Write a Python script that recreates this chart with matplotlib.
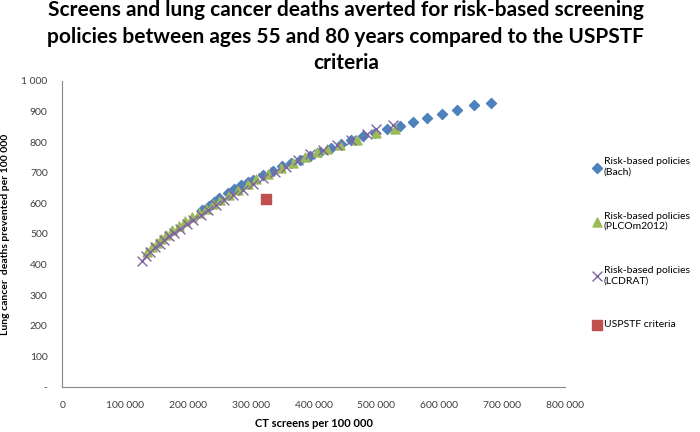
import matplotlib
matplotlib.use("Agg")
import matplotlib.pyplot as plt
from matplotlib.ticker import FuncFormatter

# Risk-based policies (Bach)
bach_x = [222000, 233000, 242000, 250000, 263000, 274000, 284000, 295000, 304000, 320000,
          336000, 350000, 364000, 379000, 394000, 410000, 427000, 443000, 459000, 478000,
          497000, 517000, 537000, 558000, 580000, 604000, 628000, 656000, 683000]
bach_y = [578, 591, 605, 618, 634, 648, 659, 668, 675, 692,
          706, 721, 732, 743, 755, 767, 780, 793, 808, 819,
          831, 843, 854, 866, 879, 893, 906, 921, 927]

# Risk-based policies (PLCOm2012)
plco_x = [135000, 142000, 150000, 157000, 165000, 175000, 185000, 195000, 206000, 217000,
          229000, 240000, 251000, 265000, 280000, 295000, 309000, 328000, 348000, 367000,
          386000, 405000, 422000, 442000, 469000, 499000, 529000]
plco_y = [440, 457, 470, 484, 497, 512, 527, 541, 555, 569,
          583, 597, 612, 628, 645, 663, 680, 697, 714, 732,
          750, 767, 778, 791, 808, 828, 843]

# Risk-based policies (LCDRAT)
lcdrat_x = [127000, 133000, 140000, 147000, 155000, 162000, 170000, 178000, 188000, 198000,
            208000, 220000, 232000, 245000, 258000, 272000, 287000, 303000, 320000, 338000,
            356000, 375000, 395000, 415000, 437000, 460000, 485000, 500000, 527000]
lcdrat_y = [413, 428, 442, 456, 468, 480, 492, 503, 517, 532,
            546, 562, 578, 595, 610, 627, 645, 664, 684, 703,
            720, 740, 760, 773, 790, 807, 825, 842, 857]

# USPSTF criteria
uspstf_x = [325000]
uspstf_y = [615]

labels = ["Risk-based policies\n(Bach)", "Risk-based policies\n(PLCOm2012)",
          "Risk-based policies\n(LCDRAT)", "USPSTF criteria"]

plt.rcParams['font.family'] = ['Lato', 'DejaVu Sans']

fig = plt.figure(figsize=(7, 4.32), dpi=100)
ax = fig.add_axes([0.089, 0.104, 0.718, 0.709])

ax.scatter(bach_x, bach_y, marker='D', s=26, color='#4F81BD', label=labels[0], zorder=3)
ax.scatter(plco_x, plco_y, marker='^', s=42, color='#9BBB59', label=labels[1], zorder=3)
ax.scatter(lcdrat_x, lcdrat_y, marker='x', s=50, color='#8064A2', linewidths=1.0,
           label=labels[2], zorder=4)
ax.scatter(uspstf_x, uspstf_y, marker='s', s=42, color='#C0504D', label=labels[3], zorder=4)

ax.set_xlim(0, 800000)
ax.set_ylim(0, 1000)
ax.set_xticks(range(0, 800001, 100000))
ax.set_yticks(range(0, 1001, 100))


def fmt_space(v):
    return f"{int(v):,}".replace(",", " ")


ax.xaxis.set_major_formatter(FuncFormatter(lambda v, p: "0" if v == 0 else fmt_space(v)))
ax.yaxis.set_major_formatter(FuncFormatter(lambda v, p: "-" if v == 0 else fmt_space(v)))
ax.tick_params(length=0, labelsize=7.5, colors='#404040')
ax.tick_params(axis='x', pad=10)
ax.tick_params(axis='y', pad=10.5)

for side in ['top', 'right']:
    ax.spines[side].set_visible(False)
for side in ['left', 'bottom']:
    ax.spines[side].set_color('#868686')

ax.set_xlabel("CT screens per 100 000", fontsize=8, fontweight='bold', labelpad=6)
ax.set_ylabel("Lung cancer  deaths prevented per 100 000", fontsize=7.5, fontweight='bold')
ax.yaxis.set_label_coords(-0.104, 0.5)

fig.suptitle("Screens and lung cancer deaths averted for risk-based screening\n"
             "policies between ages 55 and 80 years compared to the USPSTF\ncriteria",
             x=0.494, y=1.0, fontsize=15, fontweight='bold', linespacing=1.42)

fig.legend(loc='upper left', bbox_to_anchor=(0.839, 0.648), frameon=False, fontsize=7.5,
           labelspacing=3.35, handletextpad=0.3, handlelength=0.8, borderpad=0,
           scatterpoints=1)

fig.savefig("out.png", dpi=100)
